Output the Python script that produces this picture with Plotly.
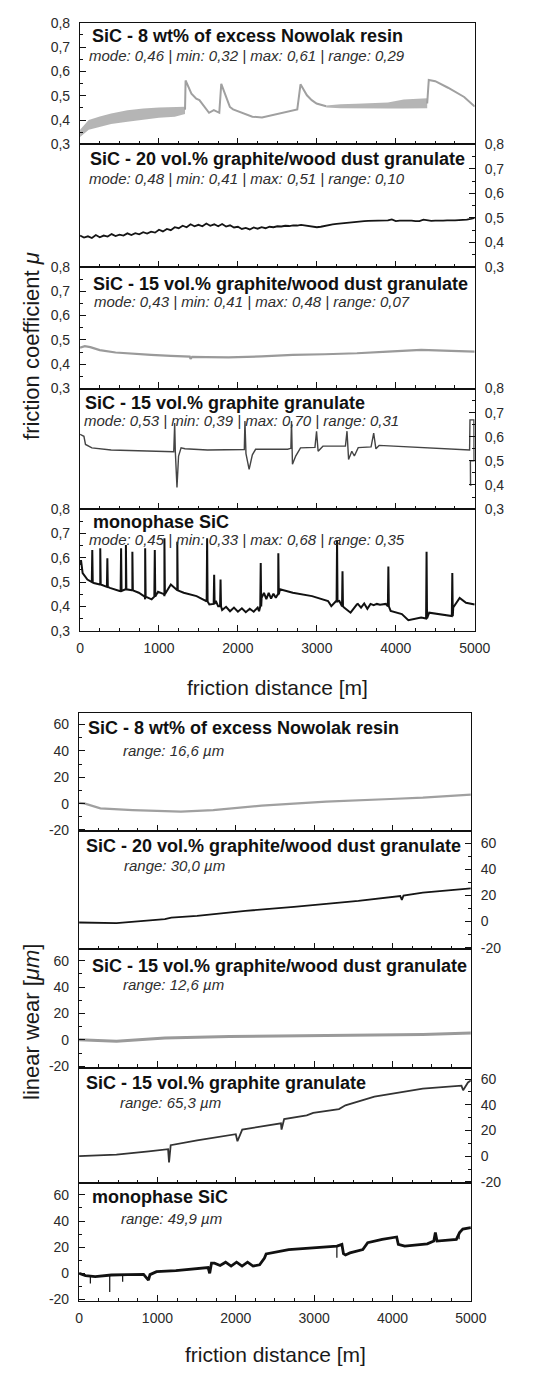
import plotly.graph_objects as go

# ------------------------------------------------------------------ data
dist_ticks = [0, 1000, 2000, 3000, 4000, 5000]
dist_tick_text = ["0", "1000", "2000", "3000", "4000", "5000"]
mu_ticks = [0.3, 0.4, 0.5, 0.6, 0.7, 0.8]
mu_tick_text = ["0,3", "0,4", "0,5", "0,6", "0,7", "0,8"]
wear_ticks = [-20, 0, 20, 40, 60]
wear_tick_text = ["-20", "0", "20", "40", "60"]

materials = [
    "SiC - 8 wt% of excess Nowolak resin",
    "SiC - 20 vol.% graphite/wood dust granulate",
    "SiC - 15 vol.% graphite/wood dust granulate",
    "SiC - 15 vol.% graphite granulate",
    "monophase SiC",
]
friction_stats = [
    "mode: 0,46 | min: 0,32 | max: 0,61 | range: 0,29",
    "mode: 0,48 | min: 0,41 | max: 0,51 | range: 0,10",
    "mode: 0,43 | min: 0,41 | max: 0,48 | range: 0,07",
    "mode: 0,53 | min: 0,39 | max: 0,70 | range: 0,31",
    "mode: 0,45 | min: 0,33 | max: 0,68 | range: 0,35",
]
wear_ranges = ["range: 16,6 µm", "range: 30,0 µm", "range: 12,6 µm",
               "range: 65,3 µm", "range: 49,9 µm"]

# friction 1 (resin) : two noisy bands + thin line segments
f1_bandA_x = [0, 110, 250, 394, 600, 801, 1000, 1200, 1330]
f1_bandA_hi = [0.36, 0.40, 0.415, 0.427, 0.44, 0.448, 0.452, 0.454, 0.455]
f1_bandA_lo = [0.33, 0.36, 0.372, 0.384, 0.393, 0.40, 0.41, 0.414, 0.425]
f1_bandC_x = [3118, 3300, 3500, 3700, 3900, 4100, 4300, 4398]
f1_bandC_hi = [0.46, 0.465, 0.467, 0.469, 0.472, 0.485, 0.49, 0.49]
f1_bandC_lo = [0.452, 0.449, 0.448, 0.448, 0.448, 0.448, 0.448, 0.449]
f1_lineB_x = [1330, 1337, 1411, 1472, 1512, 1573, 1634, 1695, 1764, 1789, 1838, 1898,
              1939, 2183, 2305, 2508, 2752, 2793, 2874, 2935, 2996, 3118]
f1_lineB_y = [0.443, 0.563, 0.509, 0.488, 0.482, 0.454, 0.43, 0.441, 0.43, 0.549, 0.509,
              0.454, 0.444, 0.414, 0.411, 0.427, 0.444, 0.547, 0.502, 0.482, 0.468, 0.457]
f1_lineD_x = [4398, 4418, 4500, 4662, 4866, 5000]
f1_lineD_y = [0.468, 0.565, 0.56, 0.533, 0.495, 0.456]

# friction 2 (20 vol.% graphite/wood dust)
f2_x = list(range(0, 5001, 50))
f2_y = [0.428, 0.420, 0.425, 0.418, 0.430, 0.421, 0.428, 0.424, 0.434, 0.426,
        0.432, 0.428, 0.437, 0.430, 0.438, 0.433, 0.442, 0.436, 0.444, 0.440,
        0.452, 0.445, 0.455, 0.450, 0.462, 0.458, 0.468, 0.462, 0.474, 0.466,
        0.472, 0.466, 0.477, 0.468, 0.474, 0.466, 0.475, 0.465, 0.470, 0.461,
        0.464, 0.455, 0.459, 0.453, 0.461, 0.456, 0.462, 0.458, 0.464, 0.462,
        0.466, 0.465, 0.468, 0.467, 0.470, 0.469, 0.472, 0.470, 0.469, 0.465,
        0.462, 0.464, 0.468, 0.471, 0.474, 0.476, 0.478, 0.480, 0.481, 0.483,
        0.484, 0.486, 0.487, 0.488, 0.489, 0.487, 0.488, 0.490, 0.490, 0.494,
        0.487, 0.489, 0.490, 0.488, 0.489, 0.487, 0.487, 0.493, 0.489, 0.488,
        0.489, 0.488, 0.489, 0.490, 0.489, 0.490, 0.491, 0.491, 0.493, 0.496,
        0.500]

# friction 3 (15 vol.% graphite/wood dust)
f3_x = [0, 60, 130, 250, 450, 663, 900, 1150, 1390, 1400, 1420, 1600, 1882, 2300,
        2695, 3100, 3508, 3900, 4321, 4700, 5000]
f3_y = [0.468, 0.474, 0.47, 0.458, 0.448, 0.442, 0.438, 0.434, 0.431, 0.422, 0.43,
        0.429, 0.428, 0.432, 0.438, 0.441, 0.445, 0.452, 0.459, 0.455, 0.452]

# friction 4 (15 vol.% graphite)
f4_x = [0, 49, 69, 150, 394, 801, 1187, 1199, 1207, 1228, 1248, 1280, 1329, 1614,
        2081, 2089, 2102, 2142, 2183, 2224, 2630, 2671, 2679, 2691, 2732, 2793, 2976,
        2996, 3016, 3077, 3362, 3382, 3402, 3443, 3475, 3524, 3687, 3720, 3748, 3789,
        4053, 4459, 4866, 4935, 4940, 4990, 4992, 4945, 4947, 4960]
f4_y = [0.61, 0.602, 0.568, 0.554, 0.545, 0.54, 0.538, 0.657, 0.54, 0.39, 0.52, 0.554,
        0.55, 0.545, 0.547, 0.665, 0.53, 0.465, 0.525, 0.548, 0.548, 0.552, 0.665,
        0.486, 0.52, 0.554, 0.556, 0.623, 0.54, 0.561, 0.561, 0.623, 0.506, 0.54, 0.52,
        0.555, 0.558, 0.615, 0.55, 0.564, 0.56, 0.553, 0.547, 0.545, 0.67, 0.67, 0.5,
        0.5, 0.40, 0.40]

# friction 5 (monophase) : base course + spikes
f5_base_x = [0, 12, 33, 93, 175, 256, 378, 500, 581, 663, 744, 825, 907, 988, 1069,
             1150, 1232, 1313, 1476, 1598, 1638, 1720, 1750, 1800, 1850, 1900, 1950,
             2000, 2050, 2100, 2150, 2200, 2250, 2268, 2300, 2330, 2360, 2390, 2420,
             2450, 2480, 2510, 2533, 2695, 2939, 3142, 3183, 3244, 3285, 3345, 3427,
             3508, 3520, 3560, 3600, 3640, 3680, 3720, 3760, 3800, 3874, 3935, 4077,
             4159, 4321, 4423, 4646, 4728, 4809, 4890, 5000]
f5_base_y = [0.57, 0.59, 0.537, 0.51, 0.496, 0.49, 0.476, 0.463, 0.47, 0.466, 0.456,
             0.429, 0.429, 0.46, 0.442, 0.49, 0.466, 0.456, 0.442, 0.422, 0.408, 0.422,
             0.40, 0.385, 0.398, 0.38, 0.395, 0.378, 0.392, 0.376, 0.39, 0.378, 0.395,
             0.38, 0.435, 0.455, 0.43, 0.455, 0.432, 0.452, 0.435, 0.45, 0.47, 0.456,
             0.442, 0.422, 0.401, 0.422, 0.422, 0.395, 0.374, 0.408, 0.41, 0.395, 0.412,
             0.39, 0.41, 0.405, 0.41, 0.407, 0.41, 0.381, 0.368, 0.343, 0.354, 0.374,
             0.361, 0.395, 0.435, 0.415, 0.408]
f5_spike_x = [155, 256, 346, 520, 581, 663, 825, 947, 1069, 1232, 1610, 1699, 1780,
              2289, 2512, 3256, 3325, 3906, 4390, 4716]
f5_spike_base = [0.50, 0.49, 0.48, 0.463, 0.47, 0.466, 0.44, 0.44, 0.45, 0.466, 0.42,
                 0.41, 0.40, 0.40, 0.45, 0.42, 0.40, 0.40, 0.35, 0.36]
f5_spike_peak = [0.632, 0.639, 0.598, 0.639, 0.652, 0.625, 0.639, 0.632, 0.68, 0.666,
                 0.68, 0.53, 0.51, 0.578, 0.618, 0.673, 0.544, 0.564, 0.625, 0.537]

# linear wear
w1_x = [0, 66, 272, 683, 1300, 1712, 2329, 3152, 3975, 4387, 5000]
w1_y = [0.5, 0.2, -3.6, -4.9, -6.1, -5.0, -1.5, 1.5, 3.5, 4.5, 6.8]
w2_x = [0, 477, 1095, 1177, 1506, 2123, 2741, 3152, 3564, 4099, 4119, 4140, 4387, 5000]
w2_y = [-0.8, -1.3, 1.8, 3.0, 4.3, 8.1, 11.2, 13.2, 15.7, 19.5, 16.5, 19.8, 22.0, 25.3]
w3_x = [0, 477, 1095, 1918, 3152, 4387, 5000]
w3_y = [0.0, -1.0, 1.3, 2.6, 3.3, 4.0, 5.1]
w4_x = [0, 477, 889, 1136, 1148, 1169, 1506, 2000, 2021, 2082, 2576, 2584, 2617, 2905,
        2988, 3317, 3399, 3769, 4387, 4880, 4901, 4963, 5000]
w4_y = [0.0, 1.2, 3.7, 5.4, -4.9, 8.5, 12.2, 17.1, 11.6, 20.7, 25.6, 20.7, 28.8, 31.7,
        33.7, 36.6, 39.6, 46.4, 52.5, 54.9, 51.3, 57.4, 58.8]
w5_x = [0, 82, 206, 412, 617, 823, 885, 905, 988, 1235, 1646, 1667, 1690, 1728, 1800,
        1870, 1940, 2010, 2080, 2150, 2220, 2304, 2366, 2387, 2675, 3292, 3354, 3374,
        3400, 3457, 3621, 3683, 3868, 4053, 4074, 4156, 4444, 4527, 4547, 4568, 4815,
        4856, 4897, 5000]
w5_y = [0.0, -1.8, -2.6, -1.3, -1.0, -0.8, -5.2, -1.0, 1.3, 2.1, 4.4, 0.0, 7.8, 7.8,
        6.0, 8.5, 5.5, 8.5, 5.5, 8.5, 5.5, 6.5, 11.7, 14.8, 18.2, 20.8, 22.1, 15.0,
        14.0, 15.6, 18.2, 23.4, 26.0, 27.8, 22.1, 20.8, 22.6, 24.7, 31.2, 24.7, 26.0,
        31.2, 33.8, 35.0]
w5_spike_x = [144, 391, 556, 3290, 4850]
w5_spike_base = [-1.5, -1.2, -1.0, 20.8, 31.0]
w5_spike_tip = [-7.8, -14.3, -6.5, 12.0, 26.0]

# ------------------------------------------------------------------ figure
W, H = 535, 1373
FONT = "Liberation Sans, Arial, sans-serif"
fig = go.Figure()


def py(p):
    return 1 - p / H


top_bounds = [15, 138, 262, 385, 507, 630]
bot_bounds = [713, 833, 952, 1072, 1189, 1308]


def ax(n):
    return ("x" if n == 1 else f"x{n}"), ("y" if n == 1 else f"y{n}")


def add_line(n, x, y, color, width):
    xa, ya = ax(n)
    fig.add_trace(go.Scatter(x=x, y=y, mode="lines", xaxis=xa, yaxis=ya,
                             line=dict(color=color, width=width), hoverinfo="skip"))


def add_band(n, x, lo, hi, color):
    xa, ya = ax(n)
    fig.add_trace(go.Scatter(x=list(x) + list(x)[::-1], y=list(hi) + list(lo)[::-1],
                             mode="lines", fill="toself", fillcolor=color,
                             line=dict(width=0, color=color), xaxis=xa, yaxis=ya,
                             hoverinfo="skip"))


# panel 1 friction
add_band(1, f1_bandA_x, f1_bandA_lo, f1_bandA_hi, "rgba(150,150,150,0.7)")
add_band(1, f1_bandC_x, f1_bandC_lo, f1_bandC_hi, "rgba(150,150,150,0.7)")
add_line(1, f1_lineB_x + [None] + f1_lineD_x, f1_lineB_y + [None] + f1_lineD_y, "#a0a0a0", 2)
# panel 2..4
add_line(2, f2_x, f2_y, "#151515", 1.8)
add_line(3, f3_x, f3_y, "#9a9a9a", 2.2)
add_line(4, f4_x, f4_y, "#444444", 1.4)
# panel 5: merge base with spikes
pts = list(zip(f5_base_x, f5_base_y))
for sx, sb, sp in zip(f5_spike_x, f5_spike_base, f5_spike_peak):
    pts += [(sx - 6, sb), (sx, sp), (sx + 6, sb)]
pts.sort(key=lambda t: t[0])
add_line(5, [p[0] for p in pts], [p[1] for p in pts], "#111111", 2)

# wear
add_line(6, w1_x, w1_y, "#a0a0a0", 2.2)
add_line(7, w2_x, w2_y, "#151515", 1.8)
add_line(8, w3_x, w3_y, "#9a9a9a", 3)
add_line(9, w4_x, w4_y, "#333333", 1.8)
add_line(10, w5_x, w5_y, "#111111", 2.8)
sx_, sy_ = [], []
for sx, sb, st in zip(w5_spike_x, w5_spike_base, w5_spike_tip):
    sx_ += [sx, sx, None]
    sy_ += [sb, st, None]
add_line(10, sx_, sy_, "#111111", 1.2)

tickfont = dict(family=FONT, size=14, color="#2a2a2a")
layout = {}
for i in range(10):
    n = i + 1
    top = i < 5
    k = i if top else i - 5
    b = top_bounds if top else bot_bounds
    xd = [79 / W, 489 / W] if top else [78 / W, 485 / W]
    yd = [py(b[k + 1]), py(b[k])]
    last = k == 4
    xname = "xaxis" if n == 1 else f"xaxis{n}"
    yname = "yaxis" if n == 1 else f"yaxis{n}"
    layout[xname] = dict(
        domain=xd, range=[0, 5000], anchor=ax(n)[1], showline=True, mirror=True,
        linecolor="#111", linewidth=1.3, ticks="inside", ticklen=6, tickwidth=1.2,
        tickcolor="#111", tickmode="array", tickvals=dist_ticks, ticktext=dist_tick_text,
        showticklabels=last, showgrid=False, zeroline=False, tickfont=tickfont,
        ticklabelstandoff=4,
        minor=dict(ticks="inside", ticklen=3, tickwidth=1, tickcolor="#111",
                   tickmode="linear", tick0=0, dtick=250, showgrid=False))
    side = "left" if k % 2 == 0 else "right"
    if top:
        yr, tv, tt, mt0, mdt = [0.3, 0.8], mu_ticks, mu_tick_text, 0.3, 0.05
    else:
        yr, tv, tt, mt0, mdt = [-21, 69], wear_ticks, wear_tick_text, 0, 10
    layout[yname] = dict(
        domain=yd, range=yr, anchor=ax(n)[0], side=side, showline=True, mirror=True,
        linecolor="#111", linewidth=1.3, ticks="inside", ticklen=6, tickwidth=1.2,
        tickcolor="#111", tickmode="array", tickvals=tv, ticktext=tt, showgrid=False,
        zeroline=False, tickfont=tickfont, ticklabelstandoff=6,
        minor=dict(ticks="inside", ticklen=3, tickwidth=1, tickcolor="#111",
                   tickmode="linear", tick0=mt0, dtick=mdt, showgrid=False))

annotations = []
title_font = dict(family=FONT, size=18, color="#111")
stat_font = dict(family=FONT, size=15, color="#2e2e2e")
t_title_x = [89, 87, 90, 82, 90]
t_stat_x = [86, 86, 91, 81, 86]
t_title_dy = [13, 15, 17, 15, 13]
t_stat_dy = [33, 35, 35, 32, 31]
b_title_x = [85, 83, 89, 83, 89]
b_stat_x = [122, 123, 122, 118, 119]
b_title_dy = [15, 15, 17, 16, 14]
b_stat_dy = [38, 35, 36, 35, 36]
for k in range(5):
    annotations.append(dict(text="<b>%s</b>" % materials[k], x=t_title_x[k] / W,
                            y=py(top_bounds[k] + t_title_dy[k]), xref="paper", yref="paper",
                            xanchor="left", yanchor="middle", showarrow=False, font=title_font))
    annotations.append(dict(text="<i>%s</i>" % friction_stats[k], x=t_stat_x[k] / W,
                            y=py(top_bounds[k] + t_stat_dy[k]), xref="paper", yref="paper",
                            xanchor="left", yanchor="middle", showarrow=False, font=stat_font))
    annotations.append(dict(text="<b>%s</b>" % materials[k], x=b_title_x[k] / W,
                            y=py(bot_bounds[k] + b_title_dy[k]), xref="paper", yref="paper",
                            xanchor="left", yanchor="middle", showarrow=False, font=title_font))
    annotations.append(dict(text="<i>%s</i>" % wear_ranges[k], x=b_stat_x[k] / W,
                            y=py(bot_bounds[k] + b_stat_dy[k]), xref="paper", yref="paper",
                            xanchor="left", yanchor="middle", showarrow=False, font=stat_font))

axis_font = dict(family=FONT, size=21, color="#1a1a1a")
yaxis_font = dict(family=FONT, size=22, color="#1a1a1a")
annotations += [
    dict(text="friction distance [m]", x=284 / W, y=py(688), xref="paper", yref="paper",
         xanchor="center", yanchor="middle", showarrow=False, font=axis_font),
    dict(text="friction distance [m]", x=282 / W, y=py(1362), xref="paper", yref="paper",
         xanchor="center", yanchor="middle", showarrow=False, font=axis_font),
    dict(text="friction coefficient <i>μ</i>", x=28 / W, y=py(342), xref="paper",
         yref="paper", xanchor="center", yanchor="middle", textangle=-90, showarrow=False,
         font=yaxis_font),
    dict(text="linear wear [<i>μm</i>]", x=28 / W, y=py(1026), xref="paper", yref="paper",
         xanchor="center", yanchor="middle", textangle=-90, showarrow=False, font=yaxis_font),
]

fig.update_layout(width=W, height=H, margin=dict(l=0, r=0, t=0, b=0),
                  paper_bgcolor="white", plot_bgcolor="white", showlegend=False,
                  annotations=annotations, font=dict(family=FONT), **layout)
fig.write_html("out.html")
